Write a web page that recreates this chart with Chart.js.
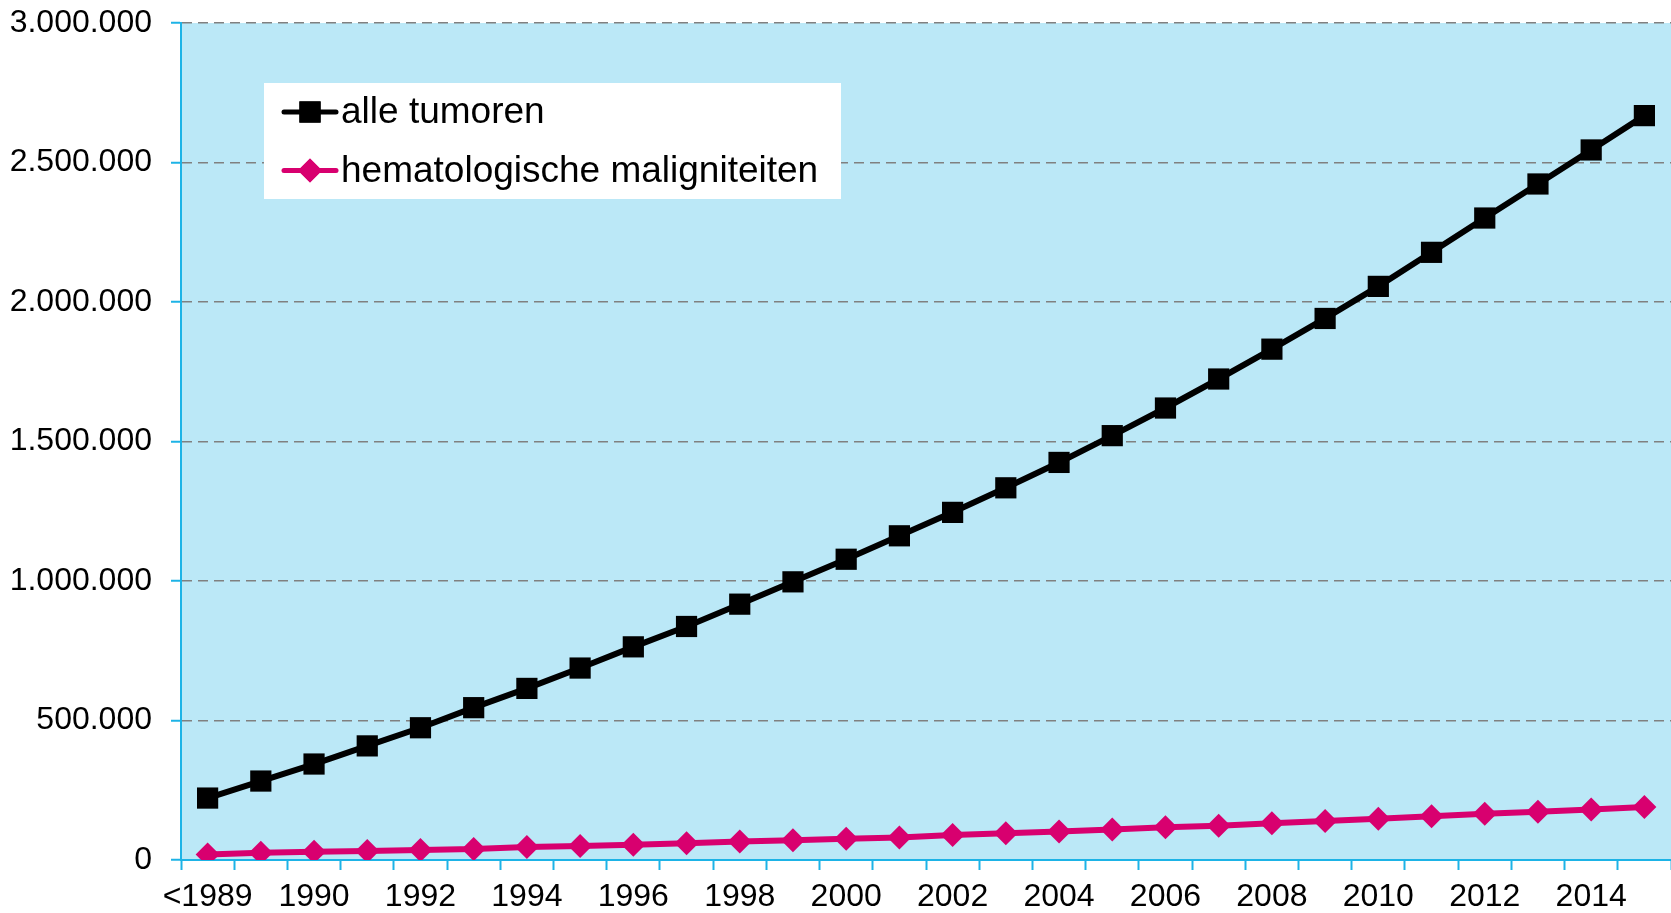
<!DOCTYPE html>
<html>
<head>
<meta charset="utf-8">
<script src="https://cdn.jsdelivr.net/npm/chart.js@4.4.1/dist/chart.umd.min.js"></script>
<style>
  body { margin: 0; background: #fff; }
  #wrap { width: 1671px; height: 913px; position: relative; }
</style>
</head>
<body>
<div id="wrap"><canvas id="myChart"></canvas></div>
<script>
var years = ["<1989", "1989", "1990", "1991", "1992", "1993", "1994", "1995", "1996", "1997",
  "1998", "1999", "2000", "2001", "2002", "2003", "2004", "2005", "2006", "2007",
  "2008", "2009", "2010", "2011", "2012", "2013", "2014", "2015"];

// alle tumoren
var alleTumoren = [222000, 283000, 344000, 409000, 474000, 546000, 615000, 688000, 764000, 837000,
  917000, 997000, 1078000, 1162000, 1246000, 1334000, 1425000, 1521000, 1620000, 1724000,
  1831000, 1941000, 2056000, 2178000, 2301000, 2423000, 2545000, 2668000];

// hematologische maligniteiten
var hemato = [20000, 26000, 30000, 32000, 36000, 39000, 47000, 50000, 55000, 60000,
  66000, 71000, 76000, 81000, 90000, 96000, 102000, 109000, 117000, 123000,
  132000, 140000, 148000, 157000, 166000, 173000, 181000, 190000];

var seriesNames = ["alle tumoren", "hematologische maligniteiten"];
var yTicks = [0, 500000, 1000000, 1500000, 2000000, 2500000, 3000000];

var cyan = "#1db3e6";
var pink = "#d8006f";
var font = "'Liberation Sans', Arial, sans-serif";

function dotted(n) {
  return n.toString().replace(/\B(?=(\d{3})+(?!\d))/g, ".");
}

// light blue plot background
var plotBg = {
  id: "plotBg",
  beforeDraw: function(chart) {
    var a = chart.chartArea, c = chart.ctx;
    c.save();
    c.fillStyle = "#bbe8f7";
    c.fillRect(a.left, a.top, a.right - a.left, a.bottom - a.top);
    c.restore();
  }
};

// legend box inside the plot, like the original
var boxLegend = {
  id: "boxLegend",
  afterDraw: function(chart) {
    var a = chart.chartArea, c = chart.ctx;
    var x = a.left + 83, y = a.top + 60;
    c.save();
    c.fillStyle = "#fff";
    c.fillRect(x, y, 577, 116);
    chart.data.datasets.forEach(function(ds, i) {
      var cy = y + 29 + i * 58.5;
      c.strokeStyle = ds.borderColor;
      c.lineWidth = 5;
      c.lineCap = "round";
      c.beginPath();
      c.moveTo(x + 20, cy);
      c.lineTo(x + 72, cy);
      c.stroke();
      c.fillStyle = ds.borderColor;
      Chart.helpers.drawPoint(c, {pointStyle: ds.pointStyle, radius: ds.pointRadius, borderWidth: 0, rotation: 0}, x + 46, cy);
      c.fill();
      c.fillStyle = "#000";
      c.font = "37px " + font;
      c.textBaseline = "middle";
      c.fillText(ds.label, x + 77, cy + 1);
    });
    c.restore();
  }
};

var ctx = document.getElementById("myChart");

var myChart = new Chart(ctx, {
  type: "line",
  data: {
    labels: years,
    datasets: [{
      label: seriesNames[0],
      data: alleTumoren,
      borderColor: "#000",
      backgroundColor: "#000",
      borderWidth: 6,
      pointStyle: "rect",
      pointRadius: 15,
      pointBorderWidth: 0,
      tension: 0
    }, {
      label: seriesNames[1],
      data: hemato,
      borderColor: pink,
      backgroundColor: pink,
      borderWidth: 6,
      pointStyle: "rectRot",
      pointRadius: 12,
      pointBorderWidth: 0,
      tension: 0
    }]
  },
  options: {
    responsive: true,
    maintainAspectRatio: false,
    animation: false,
    layout: { autoPadding: false, padding: { top: 23, right: 0, left: 0, bottom: 0 } },
    plugins: {
      legend: { display: false },
      tooltip: { enabled: false }
    },
    scales: {
      x: {
        offset: true,
        afterFit: function(s) { s.paddingRight = 0; s.height = 53; },
        grid: {
          offset: true,
          drawOnChartArea: false,
          tickColor: cyan,
          tickLength: 10,
          tickWidth: 2
        },
        border: { color: cyan, width: 2 },
        ticks: {
          autoSkip: false,
          maxRotation: 0,
          padding: 10,
          color: "#000",
          font: { family: font, size: 32, lineHeight: 1.1 },
          callback: function(v, i) { return i % 2 === 0 ? years[i] : ""; }
        }
      },
      y: {
        min: 0,
        max: 3000000,
        afterBuildTicks: function(s) {
          s.ticks = yTicks.map(function(v) { return { value: v }; });
        },
        afterFit: function(s) { s.width = 181; s.paddingTop = 0; },
        grid: {
          color: function(c) { return c.tick && c.tick.value === 0 ? "rgba(0,0,0,0)" : "#808080"; },
          lineWidth: 1.5,
          tickColor: cyan,
          tickLength: 10,
          tickWidth: 2
        },
        border: { color: cyan, width: 2, dash: [10, 6] },
        ticks: {
          padding: 19,
          color: "#000",
          font: { family: font, size: 32 },
          callback: function(v) { return dotted(v); }
        }
      }
    }
  },
  plugins: [plotBg, boxLegend]
});
</script>
</body>
</html>
